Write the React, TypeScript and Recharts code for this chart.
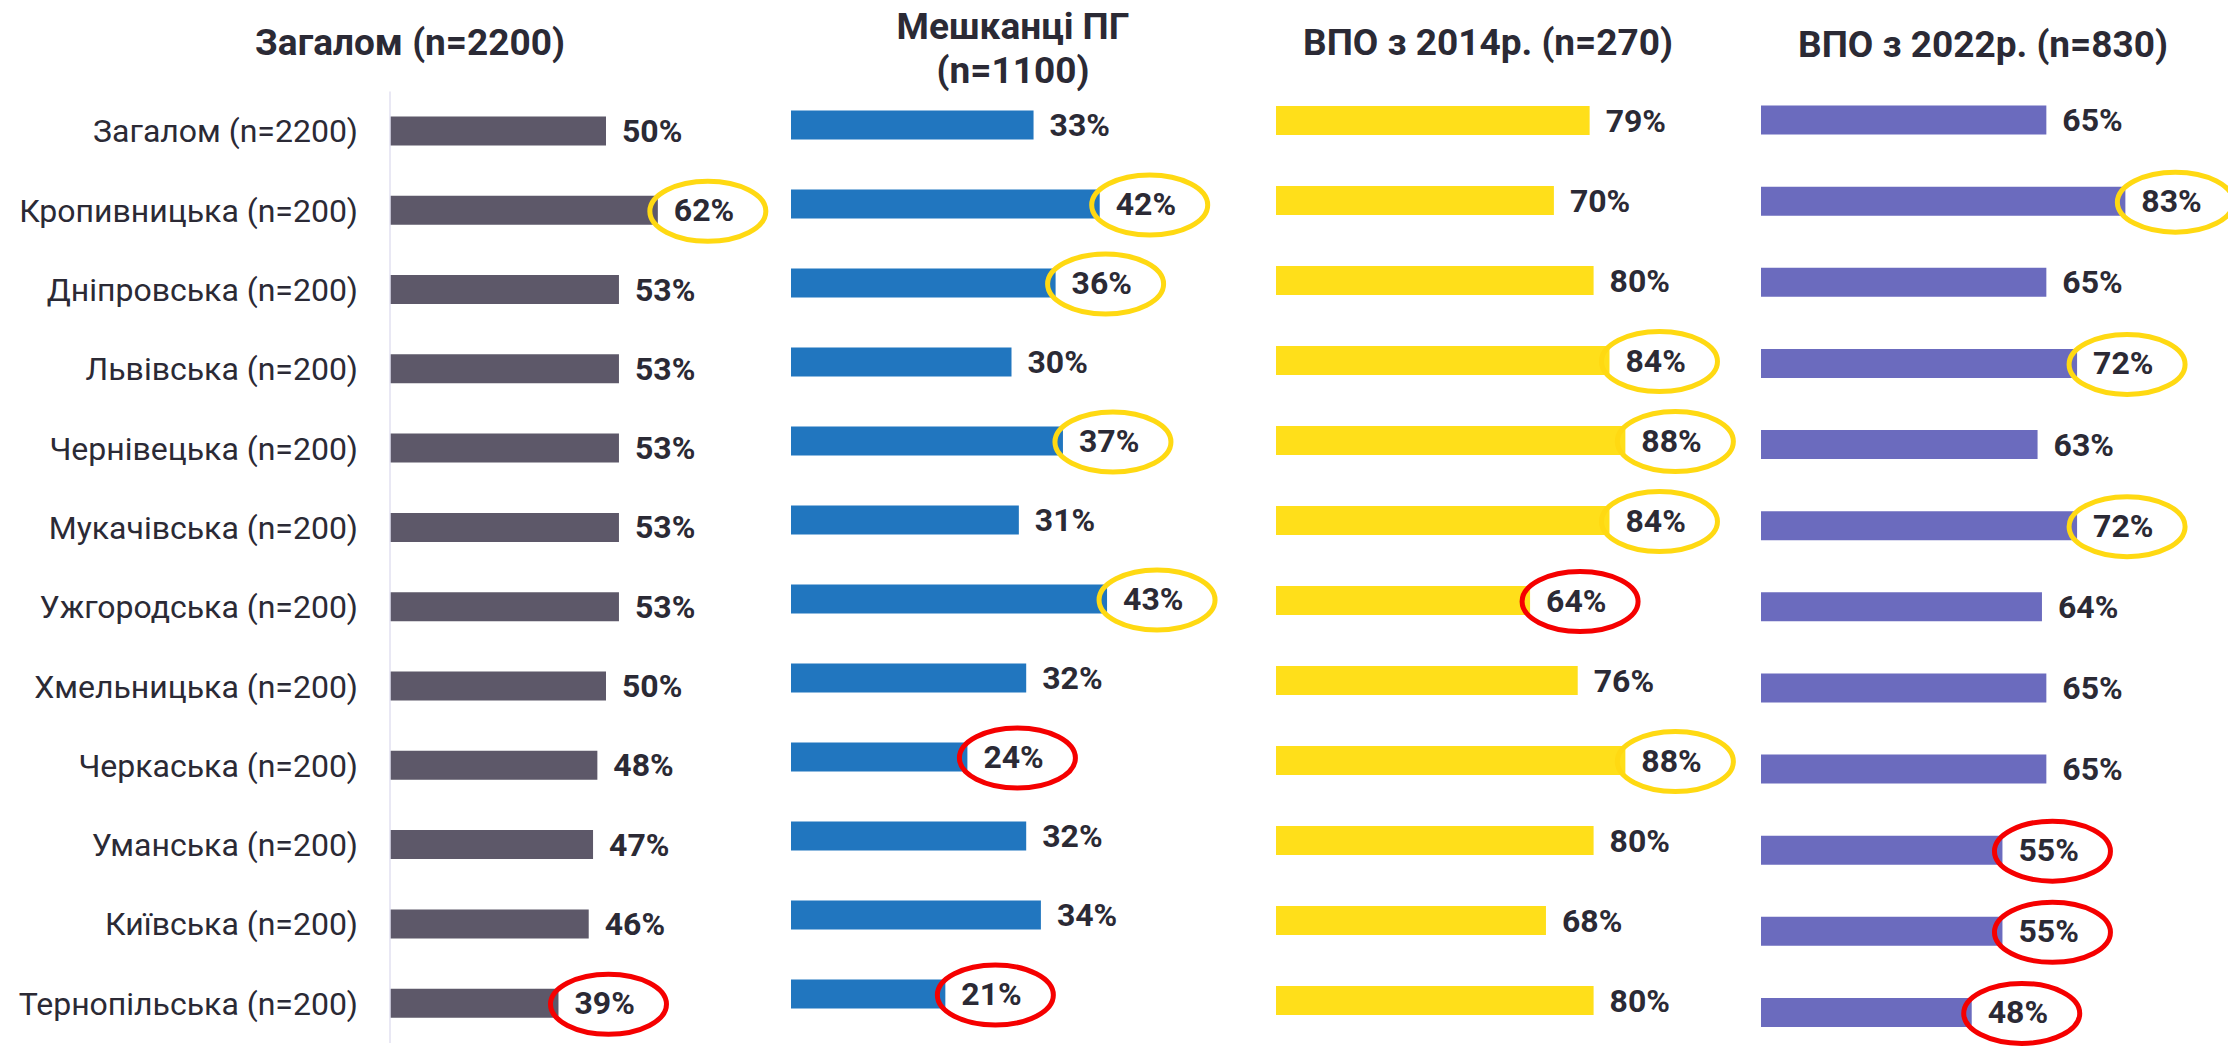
import React from "react";
import { BarChart, Bar, XAxis, YAxis, LabelList } from "recharts";

const categories = [
  "Загалом (n=2200)",
  "Кропивницька (n=200)",
  "Дніпровська (n=200)",
  "Львівська (n=200)",
  "Чернівецька (n=200)",
  "Мукачівська (n=200)",
  "Ужгородська (n=200)",
  "Хмельницька (n=200)",
  "Черкаська (n=200)",
  "Уманська (n=200)",
  "Київська (n=200)",
  "Тернопільська (n=200)",
];

const overallValues = [50, 62, 53, 53, 53, 53, 53, 50, 48, 47, 46, 39];
const residentsValues = [33, 42, 36, 30, 37, 31, 43, 32, 24, 32, 34, 21];
const idp2014Values = [79, 70, 80, 84, 88, 84, 64, 76, 88, 80, 68, 80];
const idp2022Values = [65, 83, 65, 72, 63, 72, 64, 65, 65, 55, 55, 48];

const overallMarks = ["", "hi", "", "", "", "", "", "", "", "", "", "lo"];
const residentsMarks = ["", "hi", "hi", "", "hi", "", "hi", "", "lo", "", "", "lo"];
const idp2014Marks = ["", "", "", "hi", "hi", "hi", "lo", "", "hi", "", "", ""];
const idp2022Marks = ["", "hi", "", "hi", "", "hi", "", "", "", "lo", "lo", "lo"];

const titles = [
  ["Загалом (n=2200)"],
  ["Мешканці ПГ", "(n=1100)"],
  ["ВПО з 2014р. (n=270)"],
  ["ВПО з 2022р. (n=830)"],
];

const TEXT = "#2B2A35";
const FONT = "Roboto";

type PanelCfg = {
  values: number[];
  marks: string[];
  color: string;
  left: number;
  width: number;
  plotWidth: number;
  top: number;
  plotHeight: number;
  showAxis: boolean;
};

const panels: PanelCfg[] = [
  { values: overallValues, marks: overallMarks, color: "#5D5869", left: 0, width: 830, plotWidth: 432, top: 91.4, plotHeight: 951.6, showAxis: true },
  { values: residentsValues, marks: residentsMarks, color: "#2176BF", left: 791, width: 735, plotWidth: 735, top: 85.5, plotHeight: 948, showAxis: false },
  { values: idp2014Values, marks: idp2014Marks, color: "#FFDF1A", left: 1276, width: 470, plotWidth: 397, top: 80, plotHeight: 960, showAxis: false },
  { values: idp2022Values, marks: idp2022Marks, color: "#6B6BBE", left: 1761, width: 467, plotWidth: 439, top: 79.5, plotHeight: 973.5, showAxis: false },
];

const makeLabel = (marks: string[]) => (props: any) => {
  const { x, y, width, height, value, index } = props;
  const lx = Number(x) + Number(width) + 16;
  const cy = Number(y) + Number(height) / 2;
  const mark = marks[index];
  return (
    <g key={`lbl-${index}`}>
      <text
        x={lx}
        y={cy}
        dominantBaseline="central"
        fontFamily={FONT}
        fontWeight={700}
        fontSize={32}
        fill={TEXT}
      >
        {`${value}%`}
      </text>
      {mark ? (
        <ellipse
          cx={lx + 34}
          cy={cy + 1}
          rx={58}
          ry={30}
          fill="none"
          stroke={mark === "hi" ? "#FFD912" : "#F50000"}
          strokeWidth={5}
        />
      ) : null}
    </g>
  );
};

function Panel({ cfg }: { cfg: PanelCfg }) {
  const data = categories.map((name, i) => ({ name, value: cfg.values[i] }));
  const yAxisWidth = cfg.showAxis ? 390 : 0;
  const rightMargin = cfg.width - yAxisWidth - cfg.plotWidth;
  const bottom = 1053 - cfg.top - cfg.plotHeight;
  return (
    <div style={{ position: "absolute", left: cfg.left, top: 0 }}>
      <BarChart
        width={cfg.width}
        height={1053}
        data={data}
        layout="vertical"
        margin={{ top: cfg.top, right: rightMargin, bottom: bottom, left: 0 }}
        barCategoryGap={0}
      >
        <XAxis type="number" domain={[0, 100]} hide />
        {cfg.showAxis ? (
          <YAxis
            type="category"
            dataKey="name"
            width={yAxisWidth}
            tickLine={false}
            tickMargin={26}
            axisLine={{ stroke: "#E2E0F0", strokeWidth: 1.5 }}
            tick={{ fontFamily: FONT, fontSize: 32, fill: TEXT }}
            interval={0}
          />
        ) : (
          <YAxis type="category" dataKey="name" hide width={0} />
        )}
        <Bar dataKey="value" fill={cfg.color} barSize={29} isAnimationActive={false}>
          <LabelList dataKey="value" content={makeLabel(cfg.marks)} />
        </Bar>
      </BarChart>
    </div>
  );
}

const titlePos = [
  { cx: 410, ys: [55] },
  { cx: 1013, ys: [39, 83] },
  { cx: 1488, ys: [55] },
  { cx: 1983, ys: [57] },
];

export default function App() {
  return (
    <div
      style={{
        position: "absolute",
        left: 0,
        top: 0,
        width: 2228,
        height: 1053,
        overflow: "hidden",
        background: "#ffffff",
      }}
    >
      {panels.map((p, i) => (
        <Panel key={i} cfg={p} />
      ))}
      <svg
        width={2228}
        height={1053}
        style={{ position: "absolute", left: 0, top: 0, pointerEvents: "none" }}
      >
        {titles.map((lines, i) =>
          lines.map((line, j) => (
            <text
              key={`${i}-${j}`}
              x={titlePos[i].cx}
              y={titlePos[i].ys[j]}
              textAnchor="middle"
              fontFamily={FONT}
              fontWeight={700}
              fontSize={37}
              fill={TEXT}
            >
              {line}
            </text>
          ))
        )}
      </svg>
    </div>
  );
}
